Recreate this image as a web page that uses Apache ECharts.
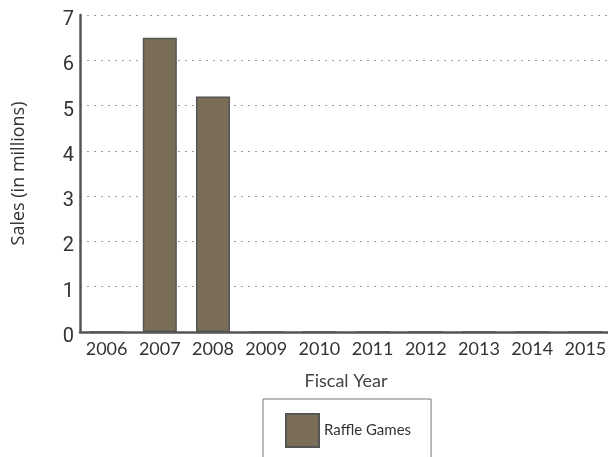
<!DOCTYPE html>
<html>
<head>
<meta charset="utf-8">
<script src="https://cdn.jsdelivr.net/npm/echarts@6/dist/echarts.min.js"></script>
<style>
  html, body { margin: 0; padding: 0; background: #fff; }
  #chart { width: 608px; height: 457px; }
</style>
</head>
<body>
<div id="chart"></div>
<script>
// Fiscal years on the category axis
const years = ['2006', '2007', '2008', '2009', '2010', '2011', '2012', '2013', '2014', '2015'];
// Raffle game sales per fiscal year, in millions
const raffleSales = [0, 6.5, 5.2, 0, 0, 0, 0, 0, 0, 0];
const seriesName = 'Raffle Games';

const chart = echarts.init(document.getElementById('chart'), null, { renderer: 'canvas' });

chart.setOption({
  animation: false,
  backgroundColor: '#ffffff',
  textStyle: { fontFamily: 'Lato, Open Sans, sans-serif' },
  grid: {
    left: 80, top: 15, width: 532, height: 317,
    containLabel: false, outerBoundsMode: 'none'
  },
  legend: {
    data: [seriesName],
    left: 263,
    top: 399,
    orient: 'horizontal',
    icon: 'rect',
    itemWidth: 33,
    itemHeight: 33,
    itemGap: 10,
    padding: [14, 20, 30, 22],
    borderColor: '#777',
    borderWidth: 1,
    textStyle: { fontSize: 15, color: '#333', fontFamily: 'Lato, sans-serif' }
  },
  xAxis: {
    type: 'category',
    data: years,
    name: 'Fiscal Year',
    nameLocation: 'middle',
    nameGap: 40,
    nameTextStyle: { fontSize: 18, color: '#444', fontFamily: 'Lato, sans-serif' },
    axisLine: { show: true, lineStyle: { color: '#555', width: 2.5 } },
    axisTick: { show: false },
    axisLabel: { interval: 0, fontSize: 18, color: '#333', margin: 8, fontFamily: 'Lato, sans-serif' },
    splitLine: { show: false }
  },
  yAxis: {
    type: 'value',
    min: 0,
    max: 7,
    interval: 1,
    name: 'Sales (in millions)',
    nameLocation: 'middle',
    nameGap: 52,
    nameTextStyle: { fontSize: 18, color: '#333', fontFamily: 'Open Sans, sans-serif' },
    axisLine: { show: true, lineStyle: { color: '#555', width: 2.5 } },
    axisTick: { show: false },
    axisLabel: {
      fontSize: 20, color: '#333', margin: 6,
      verticalAlign: 'top', lineHeight: 10,
      fontFamily: 'Liberation Sans Narrow, Roboto, sans-serif'
    },
    splitLine: { show: true, lineStyle: { color: '#999', type: [2, 5], width: 1 } }
  },
  series: [{
    name: seriesName,
    type: 'bar',
    data: raffleSales,
    barCategoryGap: '36%',
    itemStyle: { color: '#7b6e58', borderColor: '#555', borderWidth: 1.5 }
  }]
});
</script>
</body>
</html>
